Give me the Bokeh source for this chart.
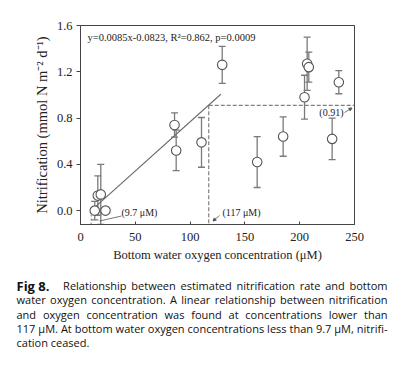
from bokeh.plotting import figure
from bokeh.layouts import column
from bokeh.models import (ColumnDataSource, Whisker, TeeHead, Label, Arrow,
                          NormalHead, FixedTicker, PrintfTickFormatter, Range1d)
from bokeh.embed import file_html
from bokeh.resources import INLINE

# ---------------- data ----------------
oxygen = [13.0, 15.8, 18.5, 22.8, 85.8, 87.3, 110.4, 129.3, 161.2, 184.9,
          204.4, 206.8, 208.3, 229.6, 235.7]
nitrification = [0.00, 0.13, 0.14, 0.00, 0.74, 0.52, 0.59, 1.26, 0.42, 0.64,
                 0.98, 1.27, 1.24, 0.62, 1.11]
nitrification_err = [0.08, 0.17, 0.26, 0.00, 0.105, 0.175, 0.215, 0.16, 0.22,
                     0.17, 0.19, 0.23, 0.13, 0.18, 0.10]
slope, intercept = 0.0085, -0.0823
fit_x = [9.7, 128.0]
threshold_x = 117
threshold_y = 0.91
onset_x = 9.7
x_ticks = [0, 50, 100, 150, 200, 250]
y_ticks = [0.0, 0.4, 0.8, 1.2, 1.6]
x_lim = (0, 250)
y_lim = (-0.12, 1.6)

eq_text = "y=0.0085x-0.0823, R\u00b2=0.862, p=0.0009"
caption_lines = [
    "Relationship between estimated nitrification rate and bottom",
    "water oxygen concentration. A linear relationship between nitrification",
    "and oxygen concentration was found at concentrations lower than",
    "117 \u00b5M. At bottom water oxygen concentrations less than 9.7 \u00b5M, nitrifi-",
    "cation ceased.",
]

# ---------------- main figure ----------------
PAGE_W, PAGE_H = 402, 366
H_MAIN = 265
BL, BT = 80, 25
FW, FH = 274, 199
BR = PAGE_W - BL - FW
BB = H_MAIN - BT - FH

p = figure(width=PAGE_W, height=H_MAIN, x_range=x_lim, y_range=y_lim,
           output_backend="svg", toolbar_location=None,
           min_border_left=BL, min_border_right=BR,
           min_border_top=BT, min_border_bottom=BB)
p.frame_align = False
p.xgrid.visible = False
p.ygrid.visible = False
p.outline_line_color = "#444444"
p.outline_line_width = 1

serif = "Liberation Serif"
AX = "#444444"
for ax in (p.xaxis[0], p.yaxis[0]):
    ax.axis_line_color = AX
    ax.major_tick_line_color = AX
    ax.minor_tick_line_color = None
    ax.major_label_text_font = serif
    ax.major_label_text_font_size = "12.5px"
    ax.major_label_text_color = "#222222"
    ax.axis_label_text_font = serif
    ax.axis_label_text_font_style = "normal"
    ax.axis_label_text_color = "#222222"

p.xaxis.ticker = FixedTicker(ticks=x_ticks)
p.xaxis.major_tick_in = 3
p.xaxis.major_tick_out = 0
p.xaxis.major_label_standoff = 8
p.xaxis.axis_label = "Bottom water oxygen concentration (\u03bcM)"
p.xaxis.axis_label_text_font_size = "12.5px"
p.xaxis.axis_label_standoff = 4

p.yaxis.ticker = FixedTicker(ticks=y_ticks)
p.yaxis.formatter = PrintfTickFormatter(format="%.1f")
p.yaxis.major_tick_in = 0
p.yaxis.major_tick_out = 4
p.yaxis.major_label_standoff = 4
p.yaxis.axis_label = "Nitrification (mmol N m\u207b\u00b2 d\u207b\u00b9)"
p.yaxis.axis_label_text_font_size = "14.5px"
p.yaxis.axis_label_standoff = 4

# ---------------- marks ----------------
src = ColumnDataSource(dict(
    x=oxygen, y=nitrification,
    lo=[v - e for v, e in zip(nitrification, nitrification_err)],
    hi=[v + e for v, e in zip(nitrification, nitrification_err)],
))

GRAY = "#7a7a7a"
DASH = "#808080"
p.segment(x0=[threshold_x], y0=[threshold_y], x1=[threshold_x], y1=[y_lim[0]],
          line_color=DASH, line_dash="4 2", line_width=1.2)
p.segment(x0=[threshold_x], y0=[threshold_y], x1=[x_lim[1]], y1=[threshold_y],
          line_color=DASH, line_dash="4 2", line_width=1.2)
p.segment(x0=[onset_x], y0=[0.0], x1=[onset_x], y1=[y_lim[0]],
          line_color=DASH, line_dash="2 2", line_width=1)

p.line(fit_x, [slope * v + intercept for v in fit_x], line_color="#6a6a6a",
       line_width=1.1)

w = Whisker(source=src, base="x", lower="lo", upper="hi", dimension="height",
            line_color=GRAY, line_width=1.3,
            upper_head=TeeHead(size=7, line_color=GRAY, line_width=1.3),
            lower_head=TeeHead(size=7, line_color=GRAY, line_width=1.3))
p.add_layout(w)

p.scatter("x", "y", source=src, size=9.5, fill_color="white",
          line_color="#555555", line_width=1.1)


# ---------------- pixel helpers for annotations ----------------
def dx(px):
    return x_lim[0] + (px - BL) * (x_lim[1] - x_lim[0]) / FW


def dy(py):
    return y_lim[1] - (py - BT) * (y_lim[1] - y_lim[0]) / FH


def lab(fig, x, y, text, size, font=serif, align="left", style="normal",
        color="#222222"):
    fig.add_layout(Label(x=x, y=y, text=text, text_align=align,
                         text_baseline="middle", text_font=font,
                         text_font_size=size, text_font_style=style,
                         text_color=color))


lab(p, dx(87), dy(37), eq_text, "10.5px")
lab(p, dx(121), dy(212), "(9.7 \u03bcM)", "10px")
lab(p, dx(222), dy(212), "(117 \u03bcM)", "10px")
lab(p, dx(343), dy(112), "(0.91)", "10px", align="right")

p.add_layout(Arrow(x_start=dx(121), y_start=dy(215.5), x_end=dx(99), y_end=dy(220.5),
                   line_color="#555555", line_width=0.8, end=None))
p.add_layout(Arrow(x_start=dx(219), y_start=dy(215), x_end=dx(212.5), y_end=dy(220.5),
                   line_color="#555555", line_width=0.8,
                   end=NormalHead(size=3, fill_color="#555555", line_color="#555555")))
p.add_layout(Arrow(x_start=dx(344), y_start=dy(112), x_end=dx(351.5), y_end=dy(107.5),
                   line_color="#555555", line_width=0.8,
                   end=NormalHead(size=3, fill_color="#555555", line_color="#555555")))

# ---------------- caption figure (pixel coordinates) ----------------
H_CAP = PAGE_H - H_MAIN
cap = figure(width=PAGE_W, height=H_CAP, x_range=Range1d(0, PAGE_W),
             y_range=Range1d(H_CAP, 0), output_backend="svg",
             toolbar_location=None, x_axis_location=None, y_axis_location=None,
             min_border=0)
cap.frame_align = False
cap.xgrid.visible = False
cap.ygrid.visible = False
cap.outline_line_color = None

OS = {' ': 532, '.': 545, ',': 512, '-': 659, '(': 578, ')': 578,
      'A': 1296, 'M': 1849, 'R': 1300, 'F': 1057,
      'a': 1139, 'b': 1255, 'c': 975, 'd': 1255, 'e': 1149, 'f': 694,
      'g': 1122, 'h': 1257, 'i': 518, 'j': 518, 'k': 1075, 'l': 518,
      'm': 1905, 'n': 1257, 'o': 1237, 'p': 1255, 'q': 1255, 'r': 836,
      's': 977, 't': 723, 'u': 1257, 'v': 1026, 'w': 1593, 'x': 1073,
      'y': 1028, 'z': 977, '\u00b5': 1268}
for dgt in "0123456789":
    OS[dgt] = 1171


def tw(s, size):
    return sum(OS.get(c, 1150) for c in s) / 2048.0 * size


CAP_FONT = "Open Sans"
CAP_SIZE = 11
CAP_COLOR = "#111111"


def justify(line, left, right, y):
    words = line.split(" ")
    widths = [tw(wd, CAP_SIZE) for wd in words]
    gap = (right - left - sum(widths)) / (len(words) - 1)
    x = left
    for wd, wdt in zip(words, widths):
        lab(cap, x + wdt / 2, y, wd, "%gpx" % CAP_SIZE, font=CAP_FONT,
            align="center", color=CAP_COLOR)
        x += wdt + gap


cap_y = [py - H_MAIN for py in (285, 299, 314, 328, 342)]
lab(cap, 16, cap_y[0], "Fig 8.", "13px", font=CAP_FONT, style="bold",
    color=CAP_COLOR)
justify(caption_lines[0], 62.5, 387, cap_y[0])
for i in (1, 2, 3):
    justify(caption_lines[i], 16, 387, cap_y[i])
lab(cap, 16, cap_y[4], caption_lines[4], "%gpx" % CAP_SIZE, font=CAP_FONT,
    color=CAP_COLOR)

layout = column(p, cap, spacing=0)
open("out.html", "w").write(file_html(layout, INLINE))
